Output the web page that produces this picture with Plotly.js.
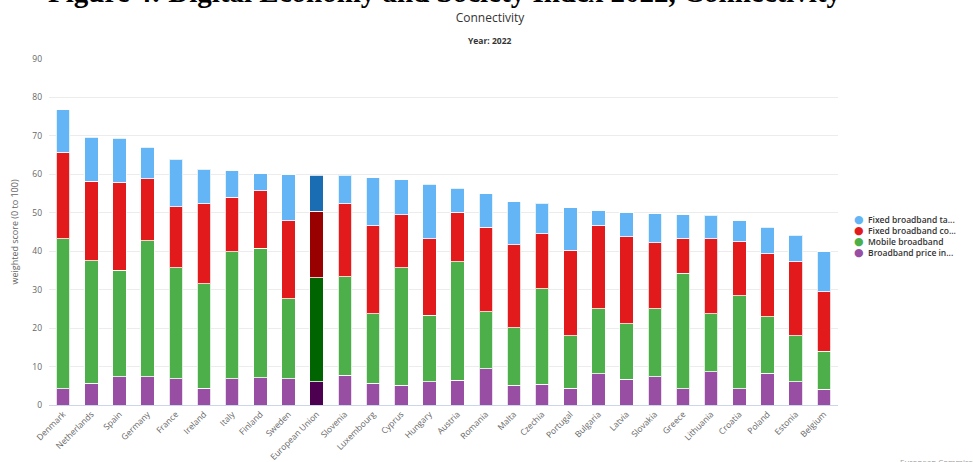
<!DOCTYPE html>
<html>
<head>
<meta charset="utf-8">
<script src="https://cdn.plot.ly/plotly-3.0.1.min.js"></script>
<style>
  html, body { margin: 0; padding: 0; background: #fff; }
  #chart { width: 973px; height: 462px; }
</style>
</head>
<body>
<div id="chart"></div>
<script>
// DESI 2022 – Connectivity dimension, weighted scores per component
const countries = ["Denmark","Netherlands","Spain","Germany","France","Ireland","Italy","Finland","Sweden","European Union","Slovenia","Luxembourg","Cyprus","Hungary","Austria","Romania","Malta","Czechia","Portugal","Bulgaria","Latvia","Slovakia","Greece","Lithuania","Croatia","Poland","Estonia","Belgium"];

// component scores (stacked bottom to top)
const priceIndex   = [4.2, 5.6, 7.4, 7.3, 6.8, 4.3, 6.8, 7.1, 6.8, 6.1, 7.8, 5.6, 5.1, 6.0, 6.5, 9.4, 5.2, 5.4, 4.3, 8.1, 6.7, 7.3, 4.2, 8.6, 4.2, 8.2, 6.0, 4.1];
const mobileBB     = [39.1, 31.9, 27.7, 35.4, 28.9, 27.3, 33.1, 33.7, 20.8, 27.0, 25.6, 18.2, 30.6, 17.4, 30.8, 14.9, 14.9, 24.8, 13.7, 17.0, 14.4, 17.8, 30.1, 15.1, 24.2, 14.8, 12.0, 9.9];
const fixedCoverage= [22.5, 20.7, 22.9, 16.1, 15.9, 20.7, 14.1, 14.9, 20.3, 17.3, 18.9, 22.8, 13.8, 19.9, 12.9, 21.9, 21.6, 14.3, 22.3, 21.5, 22.7, 17.1, 9.1, 19.6, 14.1, 16.3, 19.2, 15.4];
const fixedTakeUp  = [11.0, 11.5, 11.4, 8.2, 12.3, 9.0, 6.9, 4.5, 12.0, 9.3, 7.4, 12.5, 9.1, 14.1, 6.2, 8.8, 11.2, 8.0, 11.0, 3.9, 6.2, 7.5, 6.1, 6.0, 5.4, 7.0, 7.0, 10.4];

const seriesNames  = ["Fixed broadband ta...", "Fixed broadband co...", "Mobile broadband", "Broadband price in..."];
const baseColors   = ["#64b5f6", "#e31a1c", "#4daf4a", "#984ea3"];
const euColors     = ["#1a6db3", "#990000", "#006400", "#4d0050"];

const euLabel = "European Union";
function colorsFor(i) {
  return countries.map(c => c === euLabel ? euColors[i] : baseColors[i]);
}

const stack = [
  {vals: priceIndex,    idx: 3},
  {vals: mobileBB,      idx: 2},
  {vals: fixedCoverage, idx: 1},
  {vals: fixedTakeUp,   idx: 0}
];

const traces = stack.map(s => ({
  type: "bar",
  x: countries,
  y: s.vals,
  name: seriesNames[s.idx],
  showlegend: false,
  marker: { color: colorsFor(s.idx), line: { color: "rgba(255,255,255,0.8)", width: 1 } },
  hovertemplate: "%{x}: %{y}<extra>" + seriesNames[s.idx] + "</extra>"
}));

const font = "'Open Sans', 'DejaVu Sans', sans-serif";

// compact legend: one block, a dot and a label per line
const legendText = seriesNames.map((n, i) =>
  "<span style='color:" + baseColors[i] + ";font-size:11px'>●</span>  " + n
).join("<br>");

const layout = {
  width: 973, height: 462,
  margin: { l: 49, r: 135, t: 59, b: 57, autoexpand: false },
  paper_bgcolor: "#fff",
  plot_bgcolor: "#fff",
  barmode: "stack",
  bargap: 0.52,
  showlegend: false,
  font: { family: font, color: "#666", size: 9 },
  title: {
    text: "Connectivity",
    font: { family: font, size: 12, color: "#333" },
    x: (490 - 49) / 789, xref: "paper", xanchor: "center",
    y: 1 - 18/462, yref: "container", yanchor: "middle"
  },
  xaxis: {
    tickangle: -45,
    tickfont: { size: 8.5, color: "#666" },
    showgrid: false,
    showline: true, linecolor: "#ccd6eb", linewidth: 1,
    ticks: "", fixedrange: true
  },
  yaxis: {
    range: [0, 90],
    dtick: 10,
    gridcolor: "#ececec",
    zeroline: false,
    showline: false,
    tickfont: { size: 8.5, color: "#666" },
    ticklen: 0,
    ticklabelstandoff: 6,
    title: { text: "weighted score (0 to 100)", font: { size: 9, color: "#666" }, standoff: 12 },
    fixedrange: true
  },
  annotations: [
    {
      text: "Figure 4: Digital Economy and Society Index 2022, Connectivity",
      xref: "paper", yref: "paper",
      x: (445 - 49) / 789, xanchor: "center",
      y: (405 - 10) / 346, yanchor: "bottom",
      showarrow: false,
      font: { family: "'Liberation Serif', 'Times New Roman', serif", size: 29, color: "#000", weight: 700 }
    },
    {
      text: "<b>Year: 2022</b>",
      xref: "paper", yref: "paper",
      x: (490 - 49) / 789, xanchor: "center",
      y: (405 - 41) / 346, yanchor: "middle",
      showarrow: false,
      font: { family: font, size: 8.5, color: "#333" }
    },
    {
      text: "European Commission",
      xref: "paper", yref: "paper",
      x: (898 - 49) / 789, xanchor: "left",
      y: (405 - 454) / 346, yanchor: "top",
      showarrow: false,
      font: { family: font, size: 8, color: "#999" }
    },
    {
      text: legendText,
      xref: "paper", yref: "paper",
      x: (852 - 49) / 789, xanchor: "left",
      y: (405 - 235) / 346, yanchor: "middle",
      align: "left",
      showarrow: false,
      font: { family: font, size: 8.5, color: "#333", weight: 600 }
    }
  ]
};

Plotly.newPlot("chart", traces, layout, { displayModeBar: false, staticPlot: true });
</script>
</body>
</html>
